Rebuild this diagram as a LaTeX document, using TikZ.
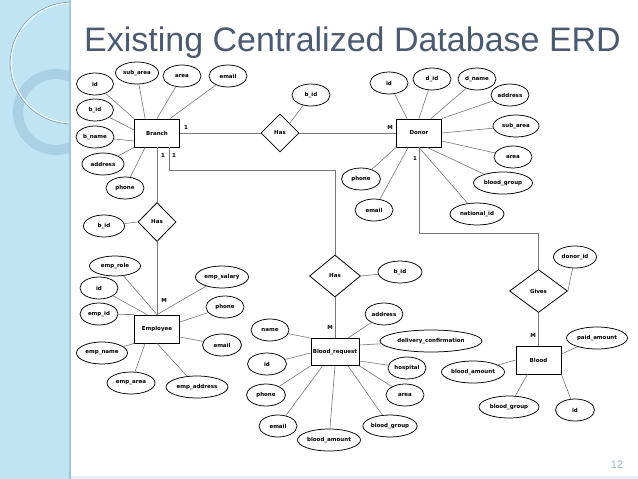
\documentclass[tikz,border=0pt]{standalone}
\usepackage{fontspec}
\setmainfont{DejaVu Sans}
\newfontfamily\titlefont{Liberation Sans}
\usetikzlibrary{shapes.geometric,calc}
\definecolor{stripblue}{RGB}{192,228,244}
\definecolor{stripedge}{RGB}{160,200,220}
\definecolor{lensblue}{RGB}{214,238,248}
\definecolor{ringblue}{RGB}{165,204,224}
\definecolor{circgray}{RGB}{130,160,175}
\definecolor{titleblue}{RGB}{74,90,114}
\definecolor{linkgray}{RGB}{120,120,120}
\definecolor{pagenum}{RGB}{150,180,200}
\definecolor{bandblue}{RGB}{225,240,248}
\newcommand\erfont{\fontsize{5.5}{6}\selectfont\bfseries}
\tikzset{
 ent/.style={draw=black, line width=0.8pt, minimum width=45pt, minimum height=28pt, inner sep=0pt, font=\erfont},
 attr/.style={draw=black, ellipse, line width=0.75pt, minimum width=38pt, minimum height=22pt, inner sep=0pt, font=\erfont},
 rel/.style={draw=black, diamond, line width=0.8pt, minimum width=38pt, minimum height=38pt, inner sep=0pt, font=\erfont},
 link/.style={draw=linkgray, line width=0.6pt},
 card/.style={font=\erfont, inner sep=0pt},
}
\begin{document}
\begin{tikzpicture}[x=1pt,y=-1pt]
\useasboundingbox (0,0) rectangle (638,479);
% slide background
\fill[white] (0,0) rectangle (638,479);
\fill[bandblue] (0,476) rectangle (638,479);
\begin{scope}
\clip (0,0) rectangle (70,479);
\fill[stripblue] (0,0) rectangle (70,479);
\fill[lensblue] (0,0) -- (57,0) arc[start angle=0, end angle=-90, radius=57] -- cycle;
\draw[ringblue, line width=10pt, opacity=0.8] (56,112) circle[radius=38];
\draw[white, line width=1.6pt] (71,63) circle[radius=60];
\draw[circgray, line width=0.7pt] (71,63) circle[radius=60.8];
\end{scope}
\draw[stripedge, line width=1.5pt] (70,0) -- (70,479);
% title
\node[anchor=base west, inner sep=0pt, text=titleblue, font=\titlefont\fontsize{34}{34}\selectfont] (title) at (84,51) {Existing Centralized Database ERD};
\node[anchor=center, inner sep=0pt, text=pagenum, font=\titlefont\fontsize{11}{11}\selectfont] (page) at (617,465) {12};

% entities
\node[ent] (Branch) at (157,133) {Branch};
\node[ent] (Donor) at (419,133) {Donor};
\node[ent] (Emp) at (157,329) {Employee};
\node[ent, minimum width=48pt, minimum height=27pt] (Breq) at (335,352) {Blood\_request};
\node[ent] (Blood) at (538.5,360) {Blood};
% relationships
\node[rel] (Has1) at (280,133) {Has};
\node[rel, minimum height=39pt] (Has2) at (157,222) {Has};
\node[rel, minimum width=51pt, minimum height=42pt] (Has3) at (335,276) {Has};
\node[rel, minimum width=58pt, minimum height=43pt] (Gives) at (538.5,291) {Gives};

% relationship connectors
\draw[link] (Branch) -- (Has1);
\draw[link] (Has1) -- (Donor);
\draw[link] (Branch.south) -- (Has2.north);
\draw[link] ($(Branch.south)+(12,0)$) -- ++(0,23) -| (Has3.north);
\draw[link] (Has2.south) -- (Emp.north);
\draw[link] (Has3.south) -- (Breq.north);
\draw[link] (Donor.south) -- ++(0,86) -| (Gives.north);
\draw[link] (Gives.south) -- (Blood.north);

% cardinalities
\node[card] (c1) at (186,127) {1};
\node[card] (c2) at (390,127) {M};
\node[card] (c3) at (163,155) {1};
\node[card] (c4) at (174,155) {1};
\node[card] (c5) at (164,300) {M};
\node[card] (c6) at (330,327) {M};
\node[card] (c7) at (415,158) {1};
\node[card] (c8) at (533,335) {M};

% Branch attributes
\node[attr, minimum width=37pt] (bid) at (95,84) {id};
\node[attr, minimum width=43pt] (bsub) at (137,73) {sub\_area};
\node[attr] (barea) at (182,76) {area};
\node[attr] (bemail) at (228,76) {email};
\node[attr, minimum width=37pt] (bbid) at (95,110) {b\_id};
\node[attr, minimum width=38pt] (bname) at (95,137) {b\_name};
\node[attr, minimum width=42pt] (baddr) at (103,164) {address};
\node[attr] (bphone) at (125,188) {phone};
\draw[link] (bid) -- (Branch.north west);
\draw[link] (bsub) -- ($(Branch.north west)+(11,0)$);
\draw[link] (barea) -- (Branch.north);
\draw[link] (bemail) -- ($(Branch.north)+(13,0)$);
\draw[link] (bbid) -- ($(Branch.west)+(0,-3)$);
\draw[link] (bname) -- ($(Branch.west)+(0,8)$);
\draw[link] (baddr) -- (Branch.south west);
\draw[link] (bphone) -- ($(Branch.south west)+(11,0)$);

% relationship attributes
\node[attr] (h1bid) at (311,95) {b\_id};
\draw[link] (h1bid) -- (Has1.north east);
\node[attr, minimum width=41pt] (h2bid) at (104,226) {b\_id};
\draw[link] (h2bid) -- (Has2.west);
\node[attr, minimum width=44pt] (h3bid) at (400,272) {b\_id};
\draw[link] (h3bid) -- (Has3.east);
\node[attr, minimum width=43pt] (gdid) at (575,257) {donor\_id};
\draw[link] (gdid) -- (Gives.east);

% Employee attributes
\node[attr, minimum width=51pt, minimum height=20pt] (erole) at (115,266) {emp\_role};
\node[attr] (eid) at (99,288) {id};
\node[attr] (eeid) at (99,314) {emp\_id};
\node[attr, minimum width=51pt] (ename) at (102,353) {emp\_name};
\node[attr, minimum width=48pt] (earea) at (131,383) {emp\_area};
\node[attr, minimum width=62pt] (eaddr) at (197,387) {emp\_address};
\node[attr, minimum width=53pt] (esal) at (222,277) {emp\_salary};
\node[attr] (ephone) at (225,307) {phone};
\node[attr, minimum width=39pt] (eemail) at (222,345) {email};
\draw[link] (erole) -- (Emp.north);
\draw[link] (eid) -- ($(Emp.north)+(-10,0)$);
\draw[link] (eeid) -- (Emp.north west);
\draw[link] (esal) -- (Emp.north);
\draw[link] (ephone) -- ($(Emp.east)+(0,-7)$);
\draw[link] (eemail) -- ($(Emp.east)+(0,8)$);
\draw[link] (ename) -- (Emp.south west);
\draw[link] (earea) -- ($(Emp.south west)+(11,0)$);
\draw[link] (eaddr) -- (Emp.south);

% Blood_request attributes
\node[attr] (rname) at (270,330) {name};
\node[attr, minimum width=39pt] (rid) at (267,364) {id};
\node[attr, minimum width=39pt] (rphone) at (266,395) {phone};
\node[attr] (remail) at (278,426) {email};
\node[attr, minimum width=63pt] (ramount) at (329,440) {blood\_amount};
\node[attr, minimum width=50pt] (rgroup) at (390,426) {blood\_group};
\node[attr] (rarea) at (405,395) {area};
\node[attr] (rhosp) at (407,368) {hospital};
\node[attr, minimum width=102pt] (rdel) at (431,341) {delivery\_confirmation};
\node[attr] (raddr) at (384,314) {address};
\draw[link] (rname) -- (Breq.north west);
\draw[link] (rid) -- ($(Breq.west)+(0,1)$);
\draw[link] (rphone) -- (Breq.south west);
\draw[link] (remail) -- ($(Breq.south west)+(12,0)$);
\draw[link] (ramount) -- (Breq.south);
\draw[link] (rgroup) -- ($(Breq.south)+(13,0)$);
\draw[link] (rarea) -- (Breq.south east);
\draw[link] (rhosp) -- ($(Breq.east)+(0,9)$);
\draw[link] (rdel) -- ($(Breq.east)+(0,-7)$);
\draw[link] (raddr) -- ($(Breq.north)+(13,0)$);

% Donor attributes
\node[attr] (did) at (389,83) {id};
\node[attr] (ddid) at (432,79) {d\_id};
\node[attr] (dname) at (477,79) {d\_name};
\node[attr] (daddr) at (510,95) {address};
\node[attr, minimum width=46pt] (dsub) at (516,126) {sub\_area};
\node[attr] (darea) at (513,157) {area};
\node[attr, minimum width=59pt] (dgroup) at (503,183) {blood\_group};
\node[attr, minimum width=54pt] (dnat) at (477,214) {national\_id};
\node[attr, minimum width=39pt] (dphone) at (361,179) {phone};
\node[attr] (demail) at (374,210) {email};
\draw[link] (did) -- ($(Donor.north west)+(11,0)$);
\draw[link] (ddid) -- (Donor.north);
\draw[link] (dname) -- ($(Donor.north east)+(-11,0)$);
\draw[link] (daddr) -- (Donor.north east);
\draw[link] (dsub) -- (Donor.east);
\draw[link] (darea) -- ($(Donor.east)+(0,8)$);
\draw[link] (dgroup) -- ($(Donor.south)+(8,0)$);
\draw[link] (dnat) -- (Donor.south);
\draw[link] (dphone) -- (Donor.south west);
\draw[link] (demail) -- ($(Donor.south west)+(12,0)$);

% Blood attributes
\node[attr, minimum width=61pt] (lpaid) at (597,338) {paid\_amount};
\node[attr, minimum width=63pt] (lamount) at (473,372) {blood\_amount};
\node[attr, minimum width=60pt] (lgroup) at (509,407) {blood\_group};
\node[attr, minimum width=39pt] (lid) at (575,410) {id};
\draw[link] (lpaid) -- ($(Blood.east)+(0,-6)$);
\draw[link] (lamount) -- (Blood.west);
\draw[link] (lgroup) -- ($(Blood.south)+(-11,0)$);
\draw[link] (lid) -- (Blood.south east);
\end{tikzpicture}
\end{document}
